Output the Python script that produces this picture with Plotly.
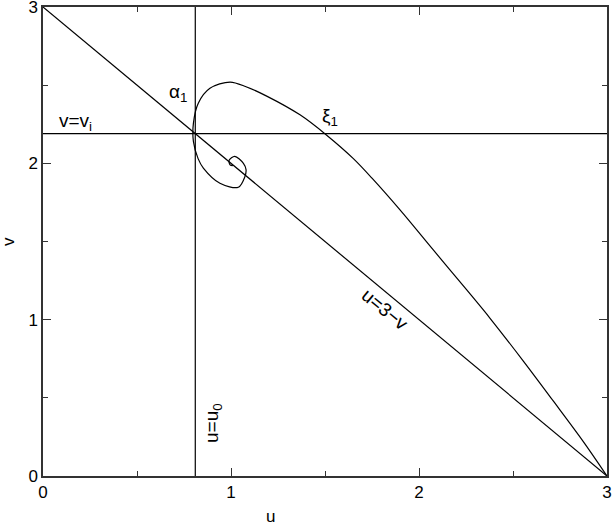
import plotly.graph_objects as go

# trajectory xi_1 in the (u, v) plane
traj_u = [3.0, 2.874, 2.714, 2.555, 2.378, 2.254, 2.076, 1.899, 1.75, 1.651, 1.509,
          1.367, 1.19, 1.08, 0.995, 0.888, 0.826, 0.80, 0.80, 0.825, 0.853, 0.941,
          1.039, 1.074, 1.08, 1.066, 1.02, 0.99, 0.995, 1.01]
traj_v = [0.0, 0.22, 0.48, 0.735, 1.009, 1.19, 1.446, 1.702, 1.905, 2.03, 2.18,
          2.31, 2.43, 2.49, 2.52, 2.48, 2.385, 2.256, 2.14, 2.03, 1.97, 1.873,
          1.847, 1.915, 1.96, 2.0, 2.045, 2.02, 1.99, 1.985]

# straight lines
u0 = 0.81
v_i = 2.19
diag_u = [0, 3]
diag_v = [3, 0]

FAMILY = "Liberation Sans, Arial, sans-serif"
font = dict(family=FAMILY, size=17, color="black")
line = dict(color="black", width=1.2)

fig = go.Figure()
fig.add_trace(go.Scatter(x=diag_u, y=diag_v, mode="lines", line=line))
fig.add_trace(go.Scatter(x=[u0, u0], y=[0, 3], mode="lines", line=line))
fig.add_trace(go.Scatter(x=[0, 3], y=[v_i, v_i], mode="lines", line=line))
fig.add_trace(go.Scatter(x=traj_u, y=traj_v, mode="lines",
                         line=dict(color="black", width=1.2, shape="spline", smoothing=0.9)))

axis = dict(
    showgrid=False, zeroline=False, showline=True, linecolor="#333", linewidth=1.5,
    mirror="ticks", ticks="inside", ticklen=8, tickcolor="#333", tickwidth=1,
    tickvals=[0, 1, 2, 3], tickfont=font, automargin=False, ticklabeloverflow="allow",
    minor=dict(ticks="inside", ticklen=5, dtick=0.5, tickcolor="#333", showgrid=False),
)

fig.update_layout(
    width=612, height=527,
    margin=dict(l=43, r=5, t=7, b=51),
    plot_bgcolor="white", paper_bgcolor="white",
    showlegend=False,
    xaxis=dict(axis, range=[0, 3]),
    yaxis=dict(axis, range=[0, 3]),
    font=font,
)

ann = dict(showarrow=False, font=dict(family=FAMILY, size=19, color="black"))
fig.add_annotation(x=0.718, y=2.45, text="α<sub>1</sub>", **ann)
fig.add_annotation(x=1.527, y=2.297, text="ξ<sub>1</sub>", **ann)
fig.add_annotation(x=0.074, y=2.265, text="v=v<sub>i</sub>", xanchor="left", **ann)
fig.add_annotation(x=1.819, y=1.062, text="u=3−v", textangle=39.7, **ann)
fig.add_annotation(x=0.904, y=0.339, text="u=u<sub>0</sub>", textangle=-90, **ann)
# axis titles
fig.add_annotation(x=(270 - 43) / 564, y=-(516 - 476) / 469, xref="paper", yref="paper",
                   text="u", xanchor="center", yanchor="middle", **dict(ann, font=font))
fig.add_annotation(x=-(43 - 8) / 564, y=(476 - 242) / 469, xref="paper", yref="paper",
                   text="v", textangle=-90, xanchor="center", yanchor="middle",
                   **dict(ann, font=font))

# drop the page's default body margin so the figure sits at the window corner
fig.write_html("out.html", config={"displayModeBar": False},
               post_script="document.body.style.margin='0px';")
